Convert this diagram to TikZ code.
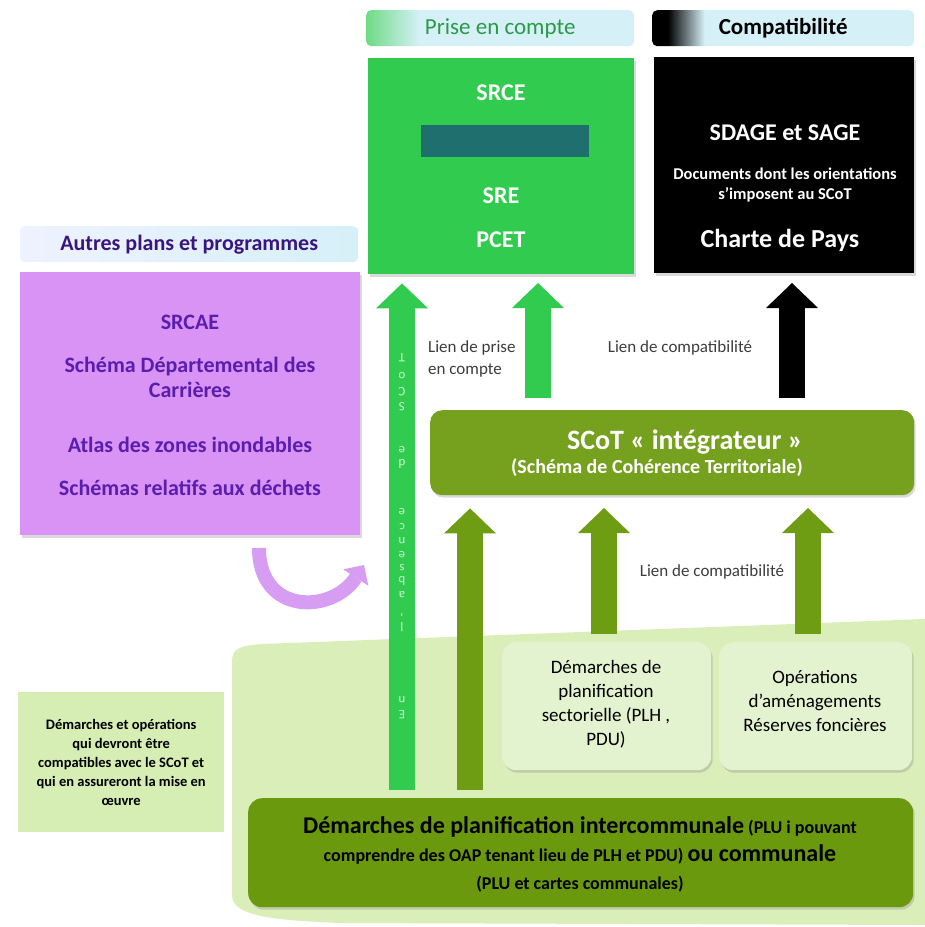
\documentclass[tikz,border=0pt]{standalone}
\usepackage{fontspec}
\setmainfont{Carlito}
\usepackage{tikz}
\usetikzlibrary{positioning}
\usetikzlibrary{shadows,arrows.meta}

\definecolor{pecgreen}{HTML}{30CB4F}
\definecolor{tealbar}{HTML}{1E6F6E}
\definecolor{hdrlight}{HTML}{D6F0F8}
\definecolor{hdrtext}{HTML}{2A9A45}
\definecolor{autresfill}{HTML}{D893F4}
\definecolor{autrestext}{HTML}{5B1DAE}
\definecolor{autreshdr}{HTML}{3A1580}
\definecolor{curvepurple}{HTML}{D79DF2}
\definecolor{scotolive}{HTML}{76A11E}
\definecolor{arrowolive}{HTML}{6E9C12}
\definecolor{pluiolive}{HTML}{6A990E}
\definecolor{zonegreen}{HTML}{D9EEB8}
\definecolor{sectgreen}{HTML}{E3F3CF}
\definecolor{notegreen}{HTML}{D6EDB4}
\definecolor{lientext}{HTML}{3C3C3C}
\definecolor{lettergreen}{HTML}{C8F5C8}

\pgfdeclarehorizontalshading{pecshade}{100bp}{color(0bp)=(pecgreen!70); color(25bp)=(pecgreen!70); color(35bp)=(hdrlight); color(100bp)=(hdrlight)}
\pgfdeclarehorizontalshading{compshade}{100bp}{color(0bp)=(black); color(25bp)=(black); color(28bp)=(black); color(35bp)=(hdrlight); color(100bp)=(hdrlight)}
\pgfdeclarehorizontalshading{autresshade}{100bp}{color(0bp)=(hdrlight!80!blue!20); color(25bp)=(hdrlight!80!blue!20); color(75bp)=(hdrlight); color(100bp)=(hdrlight)}

\begin{document}
\begin{tikzpicture}[x=1pt, y=-1pt,
  box/.style={rectangle, inner sep=0pt, anchor=north west},
  shadowbox/.style={box, drop shadow={shadow xshift=1.5pt, shadow yshift=-2.5pt, opacity=0.3}},
  roundbox/.style={shadowbox, rounded corners=14pt},
  header/.style={box, rounded corners=5pt, minimum height=36pt},
  txt/.style={align=center, inner sep=0pt},
  whitetxt/.style={txt, text=white, font=\bfseries\fontsize{24}{28}\selectfont},
  purpletxt/.style={txt, text=autrestext, font=\bfseries\fontsize{22}{25}\selectfont},
  lien/.style={txt, text=lientext, font=\fontsize{17}{22}\selectfont},
  vletter/.style={inner sep=0pt, rotate=180, text=lettergreen, font=\fontsize{13}{13}\selectfont},
  bigarrow/.style={line width=26pt, -{Triangle[length=25pt, width=52pt, line width'=0pt]}}
]

% Set the size of the figure
\useasboundingbox (0,0) rectangle (925,927);

% Light green zone behind the local documents
\fill[zonegreen] (232,662) .. controls (232,648) and (240,646) .. (262,644) -- (925,619)
  -- (925,925) -- (340,923) .. controls (262,920) and (232,914) .. (232,895) -- cycle;

% Headers
\node[header, shading=pecshade, minimum width=268pt] (hpec) at (366,10) {};
\node[txt, text=hdrtext, font=\fontsize{23}{26}\selectfont] (hpectxt) at (hpec.center) {Prise en compte};
\node[header, shading=compshade, minimum width=262pt] (hcomp) at (652,10) {};
\node[txt, font=\bfseries\fontsize{23}{26}\selectfont] (hcomptxt) at (hcomp.center) {Compatibilité};
\node[header, shading=autresshade, minimum width=338pt] (hautres) at (20,226) {};
\node[txt, text=autreshdr, font=\bfseries\fontsize{22}{25}\selectfont] (hautrestxt) at (hautres.center) {Autres plans et programmes};

% Prise en compte box
\node[shadowbox, fill=pecgreen, minimum width=266pt, minimum height=216pt] (pec) at (368,58) {};
\node[whitetxt] (srce) at (501,93) {SRCE};
\node[fill=tealbar, inner sep=0pt, minimum width=168pt, minimum height=32pt] (bar) at (505,141) {};
\node[whitetxt] (sre) at (501,196) {SRE};
\node[whitetxt] (pcet) at (501,240) {PCET};

% Compatibilite box
\node[shadowbox, fill=black, minimum width=260pt, minimum height=216pt] (comp) at (654,57) {};
\node[whitetxt, font=\bfseries\fontsize{24}{28}\selectfont] (sdage) at (785,133) {SDAGE et SAGE};
\node[whitetxt, font=\bfseries\fontsize{16.5}{20}\selectfont] (docs) at (785,185) {Documents dont les orientations\\s’imposent au SCoT};
\node[whitetxt, font=\bfseries\fontsize{26}{30}\selectfont] (charte) at (780,240) {Charte de Pays};

% Autres plans box
\node[shadowbox, fill=autresfill, minimum width=340pt, minimum height=263pt] (autres) at (20,272) {};
\node[purpletxt] (srcae) at (190,322) {SRCAE};
\node[purpletxt] (carr) at (190,377) {Schéma Départemental des\\Carrières};
\node[purpletxt] (atlas) at (190,445) {Atlas des zones inondables};
\node[purpletxt] (dechets) at (190,488) {Schémas relatifs aux déchets};

% Curved arrow
\coordinate (cs) at (259,548);
\coordinate (ce) at (364,565);
\draw[curvepurple, line width=14pt, -{Triangle[length=15pt, width=30pt, line width'=0pt]}]
  (cs) .. controls (259,615) and (332,614) .. (ce);

% SCoT box
\node[roundbox, rounded corners=12pt, fill=scotolive, minimum width=484pt, minimum height=85pt] (scot) at (430,410) {};
\node[whitetxt, font=\bfseries\fontsize{28}{32}\selectfont] (scottitle) at (685,442) {SCoT «~intégrateur~»};
\node[whitetxt, font=\bfseries\fontsize{20}{24}\selectfont] (scotsub) at (657,468) {(Schéma de Cohérence Territoriale)};

% Local documents
\node[roundbox, fill=sectgreen, minimum width=209pt, minimum height=128pt] (sect) at (502,642) {};
\node[txt, font=\fontsize{19}{24}\selectfont] (secttxt) at (606,704) {Démarches de\\planification\\sectorielle (PLH ,\\PDU)};
\node[roundbox, fill=sectgreen, minimum width=193pt, minimum height=128pt] (amgt) at (719,642) {};
\node[txt, font=\fontsize{19}{24}\selectfont] (amgttxt) at (815,701) {Opérations\\d’aménagements\\Réserves foncières};
\node[roundbox, fill=pluiolive, minimum width=665pt, minimum height=109pt] (plui) at (248,798) {};
\node[txt, font=\bfseries\fontsize{18}{28}\selectfont] (pluitxt) at (580,854)
  {{\fontsize{24}{28}\selectfont Démarches de planification intercommunale} (PLU i pouvant\\
   comprendre des OAP tenant lieu de PLH et PDU) {\fontsize{24}{28}\selectfont ou communale}\\
   (PLU et cartes communales)};
\node[box, fill=notegreen, minimum width=206pt, minimum height=140pt] (note) at (18,692) {};
\node[txt, font=\bfseries\fontsize{14.5}{19}\selectfont] (notetxt) at (note.center)
  {Démarches et opérations\\qui devront être\\compatibles avec le SCoT et\\qui en assureront la mise en\\œuvre};

% Arrows
\coordinate (a1) at (402,798);
\coordinate (b1) at (470,798);
\draw[bigarrow, pecgreen, shorten <=8pt, shorten >=9pt] (a1) -- (a1 |- pec.south);
\draw[bigarrow, pecgreen, shorten <=12pt, shorten >=9pt] (538,410) -- (538,274);
\draw[bigarrow, black, shorten <=12pt, shorten >=10pt] (792,410) -- (792,273);
\draw[bigarrow, arrowolive, shorten <=8pt, shorten >=13pt] (b1) -- (b1 |- scot.south);
\draw[bigarrow, arrowolive, shorten <=8pt, shorten >=13pt] (sect.north -| 604,0) -- (604,495);
\draw[bigarrow, arrowolive, shorten <=8pt, shorten >=13pt] (amgt.north -| 808,0) -- (808,495);

% Letters on the long arrow
\foreach \ch/\yy [count=\i] in {T/358, o/376, C/392, S/407, e/450, d/464, e/512, c/527,
    n/541, e/555, s/568, b/581, a/595, ’/612, l/627, n/700, E/715} {
  \node[vletter] (lt\i) at (402,\yy) {\ch};
}

% Link labels
\node[lien, align=left, anchor=west] (lienpec) at (428,359) {Lien de prise\\en compte};
\node[lien] (liencomp) at (680,348) {Lien de compatibilité};
\node[lien] (lienbas) at (712,572) {Lien de compatibilité};

\end{tikzpicture}
\end{document}
